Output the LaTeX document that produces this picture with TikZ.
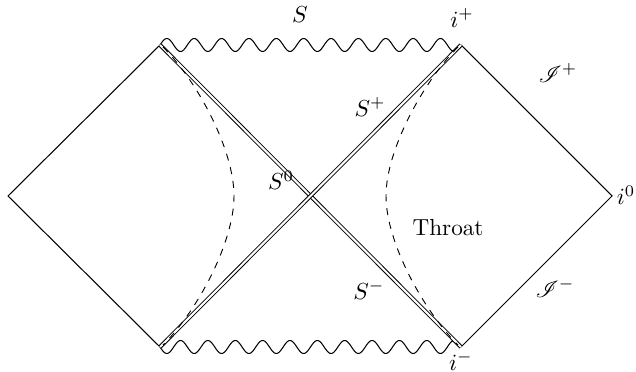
\documentclass[tikz,border=0pt]{standalone}
\usepackage{mathrsfs}
\begin{document}
\begin{tikzpicture}[x=0.431pt,y=-0.431pt,
  edge/.style={line width=0.45pt},
  dbl/.style={double,double distance=0.9pt,line width=0.4pt},
  lbl/.style={inner sep=0pt}]
\useasboundingbox (0,0) rectangle (636,372);
\coordinate (L) at (8,196);
\coordinate (TL) at (160,45);
\coordinate (BL) at (160,347);
\coordinate (TR) at (461,45);
\coordinate (BR) at (461,347);
\coordinate (R) at (612,196);
% outer diamond edges
\draw[edge] (TL) -- (L) -- (BL);
\draw[edge] (TR) -- (R) -- (BR);
% singularities (wavy)
\draw[edge,shift={(TL)}] plot[domain=0:301,samples=331,smooth] (\x,{-6.5*sin(13.1561*\x)});
\draw[edge,shift={(BL)}] plot[domain=0:301,samples=331,smooth] (\x,{6.5*sin(13.1561*\x)});
% horizons
\draw[dbl] (TL) -- (BR);
\draw[dbl] (BL) -- (TR);
% dashed curves
\draw[dashed] (163,47) .. controls (198,82) and (234,150) .. (234,196)
  .. controls (234,242) and (198,310) .. (163,345);
\draw[dashed] (458,47) .. controls (423,82) and (386,150) .. (386,196)
  .. controls (386,242) and (423,310) .. (458,345);
% labels
\node[lbl] (s) at (300,15) {$S$};
\node[lbl] (ip) at (462,18) {$i^+$};
\node[lbl] (im) at (461,361) {$i^-$};
\node[lbl] (i0) at (626,195) {$i^0$};
\node[lbl] (sp) at (370,107) {$S^+$};
\node[lbl] (sm) at (369,290) {$S^-$};
\node[lbl] (s0) at (281,180) {$S^0$};
\node[lbl] (jp) at (558,73) {$\mathscr{I}^+$};
\node[lbl] (jm) at (555,288) {$\mathscr{I}^-$};
\node[lbl] (th) at (448,228) {Throat};
\end{tikzpicture}
\end{document}
